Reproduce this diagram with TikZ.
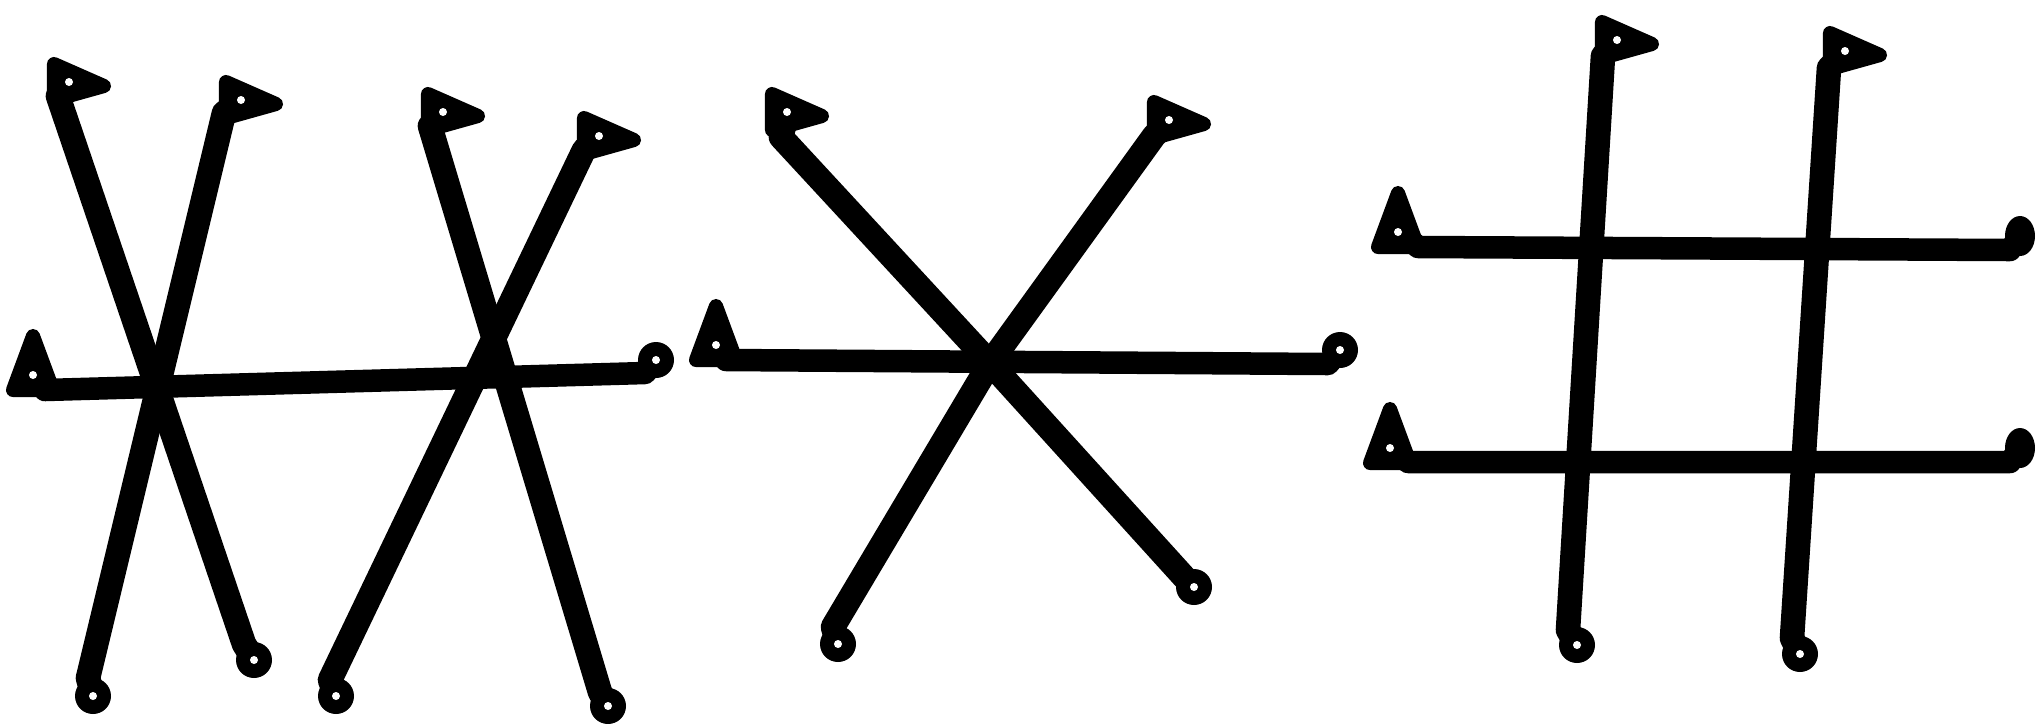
\documentclass[tikz,border=0pt]{standalone}
\tikzset{
  bar/.style={line width=7pt, line cap=round, line join=round, black},
  hbar/.style={line width=6.4pt, line cap=round, line join=round, black},
  endfill/.style={fill=black, draw=black, line width=4pt, line join=round},
  flagend/.pic={\path[endfill] (-16,-18) -- (34,4) -- (-16,18) -- cycle;
                \fill[white] (-1,0) circle[radius=4];},
  ringend/.pic={\fill[black] (0,0) circle[radius=18]; \fill[white] (0,0) circle[radius=4];},
  triend/.pic={\path[endfill] (-20,18) -- (0,-36) -- (20,18) -- cycle;
               \fill[white] (0,3) circle[radius=4];},
  blobend/.pic={\fill[black] (0,0) ellipse[x radius=15, y radius=20];},
}
\begin{document}
\begin{tikzpicture}[x=0.01cm, y=-0.01cm]
\fill[white] (0,0) rectangle (2038,723);
\useasboundingbox (0,0) rectangle (2038,723);

% ---------- figure 1 ----------
\coordinate (f1) at (70,82);  \coordinate (t1) at (58,96);
\coordinate (b1) at (244,644); \coordinate (r1) at (254,660);
\coordinate (f2) at (242,100); \coordinate (t2) at (224,113);
\coordinate (b2) at (88,678);  \coordinate (r2) at (93,696);
\coordinate (f3) at (444,112); \coordinate (t3) at (430,126);
\coordinate (b3) at (600,692); \coordinate (r3) at (608,706);
\coordinate (f4) at (600,136); \coordinate (t4) at (584,150);
\coordinate (b4) at (330,680); \coordinate (r4) at (336,696);
\coordinate (l1) at (33,372);  \coordinate (s1) at (45,390);
\coordinate (e1) at (645,373); \coordinate (q1) at (656,360);

% ---------- figure 2 ----------
\coordinate (f5) at (788,112);  \coordinate (t5) at (781,137);
\coordinate (m5) at (990,363);  \coordinate (b5) at (1184,577);
\coordinate (r5) at (1194,587);
\coordinate (f6) at (1170,120); \coordinate (t6) at (1154,136);
\coordinate (b6) at (833,627);  \coordinate (r6) at (838,644);
\coordinate (l2) at (716,342);  \coordinate (s2) at (726,360);
\coordinate (e2) at (1328,364); \coordinate (q2) at (1340,350);

% ---------- figure 3 ----------
\coordinate (f7) at (1618,40);  \coordinate (t7) at (1603,56);
\coordinate (b7) at (1568,630); \coordinate (r7) at (1577,645);
\coordinate (f8) at (1846,51);  \coordinate (t8) at (1829,68);
\coordinate (b8) at (1792,638); \coordinate (r8) at (1800,654);
\coordinate (l3) at (1398,229); \coordinate (s3) at (1418,247);
\coordinate (e3) at (2010,250); \coordinate (q3) at (2020,236);
\coordinate (l4) at (1390,445); \coordinate (s4) at (1408,462);
\coordinate (e4) at (2010,462); \coordinate (q4) at (2020,448);

% bars
\draw[bar] (f1) -- (t1) -- (b1) -- (r1);
\draw[bar] (f2) -- (t2) -- (b2) -- (r2);
\draw[bar] (f3) -- (t3) -- (b3) -- (r3);
\draw[bar] (f4) -- (t4) -- (b4) -- (r4);
\draw[hbar] (l1) -- (s1) -- (e1) -- (q1);
\draw[bar] (f5) -- (t5) -- (m5) -- (b5) -- (r5);
\draw[bar] (f6) -- (t6) -- (m5) -- (b6) -- (r6);
\draw[hbar] (l2) -- (s2) -- (e2) -- (q2);
\draw[bar] (f7) -- (t7) -- (b7) -- (r7);
\draw[bar] (f8) -- (t8) -- (b8) -- (r8);
\draw[hbar] (l3) -- (s3) -- (e3) -- (q3);
\draw[hbar] (l4) -- (s4) -- (e4) -- (q4);

% end pieces
\foreach \p in {f1,f2,f3,f4,f5,f6,f7,f8} \pic at (\p) {flagend};
\foreach \p in {r1,r2,r3,r4,r5,r6,r7,r8,q1,q2} \pic at (\p) {ringend};
\foreach \p in {l1,l2,l3,l4} \pic at (\p) {triend};
\foreach \p in {q3,q4} \pic at (\p) {blobend};
\end{tikzpicture}
\end{document}
